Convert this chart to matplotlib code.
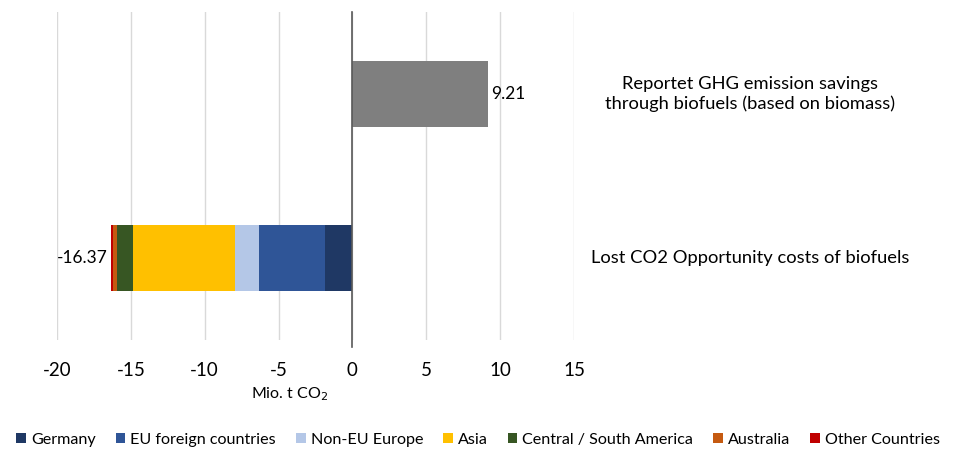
import numpy as np
import matplotlib
matplotlib.use("Agg")
import matplotlib.pyplot as plt
from matplotlib.patches import Patch

plt.rcParams['font.family'] = ['Lato', 'DejaVu Sans']

# data
categories = ["Lost CO2 Opportunity costs of biofuels",
              "Reportet GHG emission savings\nthrough biofuels (based on biomass)"]
regions = ["Germany", "EU foreign countries", "Non-EU Europe", "Asia",
           "Central / South America", "Australia", "Other Countries"]
region_values = [-1.88, -4.46, -1.63, -6.87, -1.09, -0.27, -0.17]
region_colors = ["#1F3864", "#2F5597", "#B4C7E7", "#FFC000", "#375623", "#C55A11", "#C00000"]
savings_value = 9.21
total_label = "-16.37"
ticks = [-20, -15, -10, -5, 0, 5, 10, 15]

fig = plt.figure(figsize=(9.57, 4.63), dpi=100)
ax = fig.add_axes([57 / 957, 1 - 340 / 463, (574 - 57) / 957, 328 / 463])

# stacked negative bar (row 0)
left = 0.0
for name, val, col in zip(regions, region_values, region_colors):
    ax.barh(0, val, left=left, height=0.4, color=col, label=name, zorder=3)
    left += val

# savings bar (row 1)
ax.barh(1, savings_value, height=0.4, color="#7F7F7F", zorder=3)

ax.text(left - 0.2, 0, total_label, ha="right", va="center", fontsize=12.5)
ax.text(savings_value + 0.2, 1, f"{savings_value:.2f}", ha="left", va="center", fontsize=12.5)

for i, cat in enumerate(categories):
    ax.text(26.9, i, cat, ha="center", va="center", fontsize=13.2, linespacing=1.25,
            clip_on=False)

ax.set_xlim(-20, 15)
ax.set_ylim(-0.5, 1.5)
ax.set_xticks(ticks)
ax.set_xticklabels([str(t) for t in ticks], fontsize=13.5)
ax.set_yticks([])
ax.tick_params(axis="x", length=0, pad=16)
ax.grid(axis="x", color="#D9D9D9", linewidth=1, zorder=0)
ax.axvline(0, color="#595959", linewidth=1.2, ymin=-0.02, ymax=1, clip_on=False, zorder=4)
for s in ax.spines.values():
    s.set_visible(False)

fig.text(290 / 957, 1 - 394 / 463, "Mio. t CO$_2$", ha="center", va="center", fontsize=11.5)

handles = [Patch(facecolor=c, edgecolor="none") for c in region_colors]
fig.legend(handles, regions, loc="center", bbox_to_anchor=(478 / 957, 1 - 440 / 463),
           ncol=7, frameon=False, fontsize=11.6, handlelength=0.6, handleheight=0.6,
           handletextpad=0.3, columnspacing=1.25, borderpad=0)

fig.savefig("out.png", dpi=100)
